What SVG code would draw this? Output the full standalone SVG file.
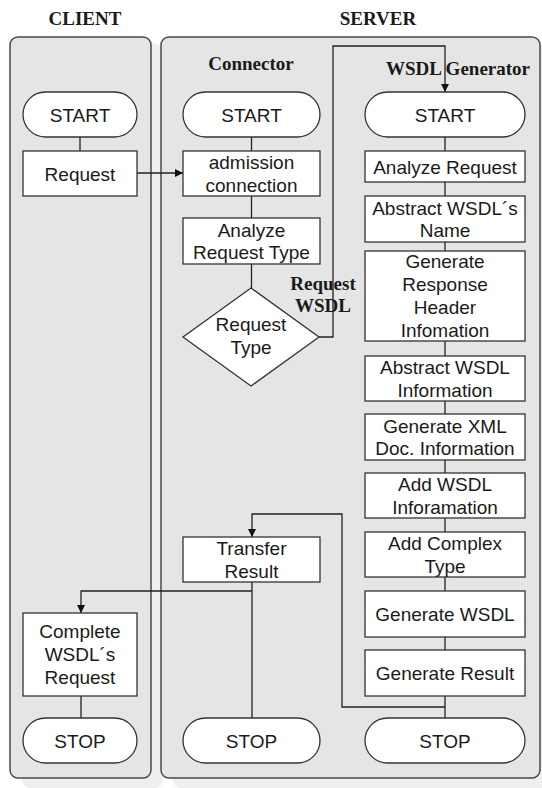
<svg xmlns="http://www.w3.org/2000/svg" width="542" height="788" viewBox="0 0 542 788">
<style>
.title{font-family:"Liberation Serif","Times New Roman",serif;font-weight:bold;font-size:19px;fill:#1a1a1a;text-anchor:middle}
.t{font-family:"Liberation Sans",Arial,sans-serif;font-size:19px;fill:#1a1a1a;text-anchor:middle}
.panel{fill:#e5e5e5;stroke:#4a4a4a;stroke-width:1.5}
.shadow{fill:#efefef;stroke:none}
.box{fill:#fff;stroke:#333;stroke-width:1.3}
.ln{fill:none;stroke:#222;stroke-width:1.3}
</style>
<defs>
<marker id="arr" viewBox="0 0 10 10" refX="10" refY="5" markerWidth="8" markerHeight="8" markerUnits="userSpaceOnUse" orient="auto">
<path d="M0,0 L10,5 L0,10 Z" fill="#111"/>
</marker>
</defs>
<rect width="542" height="788" fill="#fff"/>
<g id="panels">
<rect class="shadow" x="22" y="44" width="141" height="744" rx="8"/>
<rect class="shadow" x="173" y="44" width="379" height="744" rx="8"/>
<rect class="panel" x="10" y="37" width="141" height="741" rx="8"/>
<rect class="panel" x="161" y="37" width="379" height="741" rx="8"/>
<text class="title" x="85" y="25">CLIENT</text>
<text class="title" x="378" y="25">SERVER</text>
<text class="title" x="251" y="70">Connector</text>
<text class="title" x="458" y="75">WSDL Generator</text>
</g>
<g id="label-request-wsdl">
<text class="title" x="323" y="290">Request</text>
<text class="title" x="323" y="312">WSDL</text>
</g>
<g id="connectors">
<line class="ln" x1="80" y1="137" x2="80" y2="151"/>
<line class="ln" x1="137" y1="173" x2="183" y2="173" marker-end="url(#arr)"/>
<line class="ln" x1="251.5" y1="137" x2="251.5" y2="151"/>
<line class="ln" x1="251.5" y1="196" x2="251.5" y2="218"/>
<line class="ln" x1="251.5" y1="264" x2="251.5" y2="288"/>
<polyline class="ln" points="319,337 333,337 333,46 445,46 445,92" marker-end="url(#arr)"/>
<line class="ln" x1="445" y1="137" x2="445" y2="151"/>
<line class="ln" x1="445" y1="182" x2="445" y2="196"/>
<line class="ln" x1="445" y1="242" x2="445" y2="251"/>
<line class="ln" x1="445" y1="341" x2="445" y2="356"/>
<line class="ln" x1="445" y1="401" x2="445" y2="414"/>
<line class="ln" x1="445" y1="460" x2="445" y2="473"/>
<line class="ln" x1="445" y1="518" x2="445" y2="532"/>
<line class="ln" x1="445" y1="577" x2="445" y2="591"/>
<line class="ln" x1="445" y1="637" x2="445" y2="650"/>
<line class="ln" x1="445" y1="696" x2="445" y2="718"/>
<polyline class="ln" points="445,707 342,707 342,514 252,514 252,537" marker-end="url(#arr)"/>
<line class="ln" x1="252" y1="582" x2="252" y2="718"/>
<polyline class="ln" points="252,591 81,591 81,613" marker-end="url(#arr)"/>
<line class="ln" x1="81" y1="696" x2="81" y2="718"/>
</g>
<g id="client-start"><rect class="box" x="23" y="92" width="114" height="45" rx="22.5"/><text class="t" x="80" y="121.5">START</text></g>
<g id="client-request"><rect class="box" x="23" y="151" width="114" height="45"/><text class="t" x="80" y="180.5">Request</text></g>
<g id="client-complete"><rect class="box" x="23" y="613" width="114" height="83"/><text class="t" x="80" y="638">Complete</text><text class="t" x="80" y="661">WSDL´s</text><text class="t" x="80" y="684">Request</text></g>
<g id="client-stop"><rect class="box" x="23" y="718" width="114" height="45" rx="22.5"/><text class="t" x="80" y="747.5">STOP</text></g>
<g id="conn-start"><rect class="box" x="183" y="92" width="137" height="45" rx="22.5"/><text class="t" x="251.5" y="121.5">START</text></g>
<g id="conn-admission"><rect class="box" x="183" y="151" width="137" height="45"/><text class="t" x="251.5" y="169">admission</text><text class="t" x="251.5" y="191.5">connection</text></g>
<g id="conn-analyze"><rect class="box" x="183" y="218" width="137" height="46"/><text class="t" x="251.5" y="236.5">Analyze</text><text class="t" x="251.5" y="259">Request Type</text></g>
<g id="conn-decision"><polygon class="box" points="251,288 319,337 251,386 183,337"/><text class="t" x="251" y="331">Request</text><text class="t" x="251" y="354">Type</text></g>
<g id="conn-transfer"><rect class="box" x="183" y="537" width="137" height="45"/><text class="t" x="251.5" y="555">Transfer</text><text class="t" x="251.5" y="577.5">Result</text></g>
<g id="conn-stop"><rect class="box" x="183" y="718" width="137" height="45" rx="22.5"/><text class="t" x="251.5" y="747.5">STOP</text></g>
<g id="gen-start"><rect class="box" x="365" y="92" width="160" height="45" rx="22.5"/><text class="t" x="445" y="121.5">START</text></g>
<g id="gen-analyze"><rect class="box" x="365" y="151" width="160" height="31"/><text class="t" x="445" y="173.5">Analyze Request</text></g>
<g id="gen-name"><rect class="box" x="365" y="196" width="160" height="46"/><text class="t" x="445" y="214.5">Abstract WSDL´s</text><text class="t" x="445" y="237">Name</text></g>
<g id="gen-header"><rect class="box" x="365" y="251" width="160" height="90"/><text class="t" x="445" y="268">Generate</text><text class="t" x="445" y="291">Response</text><text class="t" x="445" y="314">Header</text><text class="t" x="445" y="337">Infomation</text></g>
<g id="gen-abstract-info"><rect class="box" x="365" y="356" width="160" height="45"/><text class="t" x="445" y="374">Abstract WSDL</text><text class="t" x="445" y="396.5">Information</text></g>
<g id="gen-xml"><rect class="box" x="365" y="414" width="160" height="46"/><text class="t" x="445" y="432.5">Generate XML</text><text class="t" x="445" y="455">Doc. Information</text></g>
<g id="gen-add-wsdl"><rect class="box" x="365" y="473" width="160" height="45"/><text class="t" x="445" y="491">Add WSDL</text><text class="t" x="445" y="513.5">Inforamation</text></g>
<g id="gen-complex"><rect class="box" x="365" y="532" width="160" height="45"/><text class="t" x="445" y="550">Add Complex</text><text class="t" x="445" y="572.5">Type</text></g>
<g id="gen-wsdl"><rect class="box" x="365" y="591" width="160" height="46"/><text class="t" x="445" y="621">Generate WSDL</text></g>
<g id="gen-result"><rect class="box" x="365" y="650" width="160" height="46"/><text class="t" x="445" y="680">Generate Result</text></g>
<g id="gen-stop"><rect class="box" x="365" y="718" width="160" height="45" rx="22.5"/><text class="t" x="445" y="747.5">STOP</text></g>
</svg>
